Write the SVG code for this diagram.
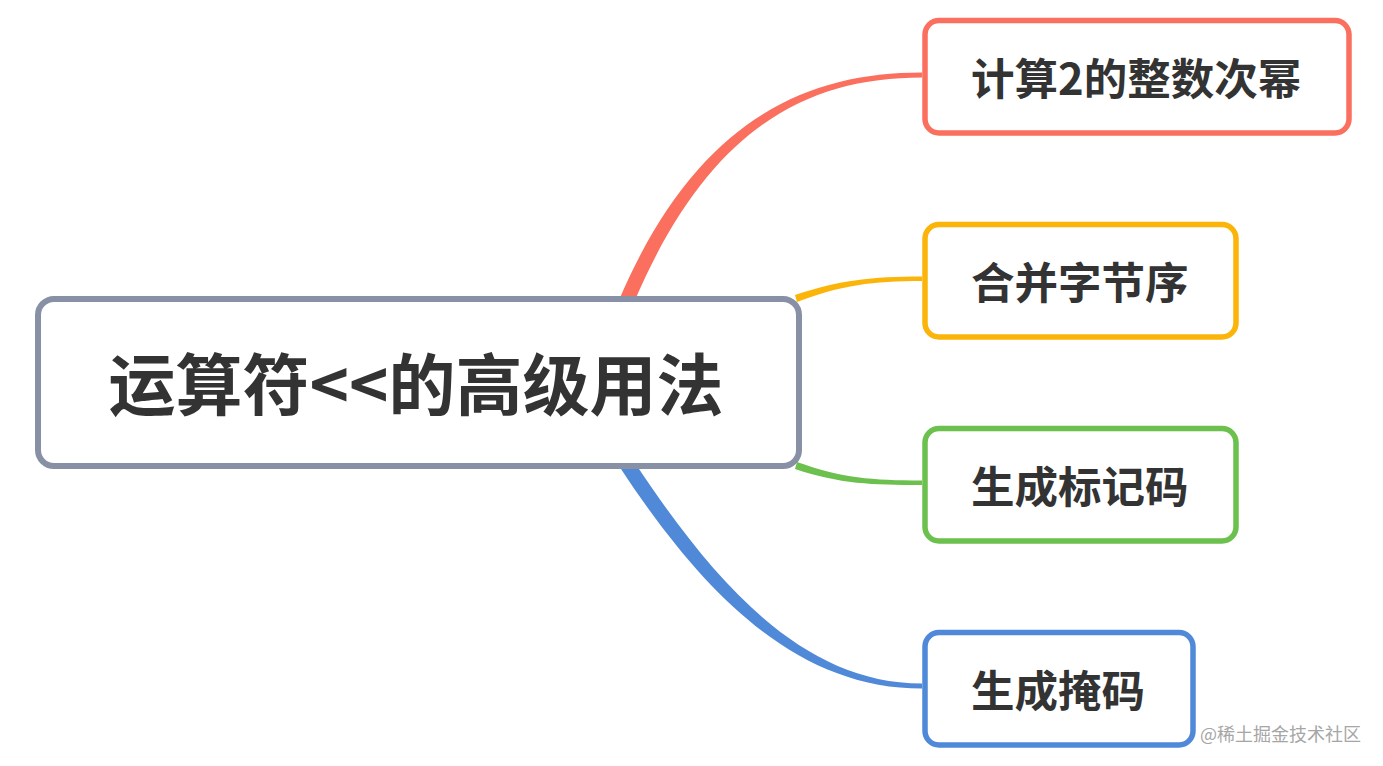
<svg xmlns="http://www.w3.org/2000/svg" width="1383" height="766" viewBox="0 0 1383 766">
<style>
.node{fill:#fff;stroke-width:5.5}
.lbl{font-family:"Noto Sans CJK SC","Noto Sans",sans-serif;font-weight:bold;font-size:43.5px;fill:#333;dominant-baseline:central}
.main{font-size:67px}
.wm{font-family:"Noto Sans CJK SC","Noto Sans",sans-serif;font-size:18px;fill:#a6a6a6}
</style>
<rect width="1383" height="766" fill="#fff"/>
<g id="connectors">
<path d="M 619 300 C 693 127, 798 72.5, 922 72.5 L 922 77.5 C 802 77.5, 707 133, 635 300 Z" fill="#fa6f5e"/>
<path d="M 795 295 C 840 280, 872 276.5, 922 276.5 L 922 281 C 872 281, 842 285, 797 302 Z" fill="#fbb50a"/>
<path d="M 797 462 C 842 478, 872 480.5, 922 480.5 L 922 485 C 872 485, 840 484, 795 469 Z" fill="#6cc04e"/>
<path d="M 637 466 C 717 586, 804 683.5, 922 683.5 L 922 688.5 C 796 688.5, 703 594, 619 466 Z" fill="#4f89d8"/>
</g>
<g id="root">
<rect x="38" y="299" width="761" height="167" rx="16" fill="#fff" stroke="#8790a4" stroke-width="6"/>
<text class="lbl main" x="416" y="380" text-anchor="middle">运算符&lt;&lt;的高级用法</text>
</g>
<g id="n1">
<rect class="node" x="925" y="20.5" width="424" height="112.5" rx="14" stroke="#fa6f5e"/>
<text class="lbl" x="971" y="76">计算2的整数次幂</text>
</g>
<g id="n2">
<rect class="node" x="925" y="224.5" width="311" height="112.5" rx="14" stroke="#fbb50a"/>
<text class="lbl" x="971" y="280">合并字节序</text>
</g>
<g id="n3">
<rect class="node" x="925" y="428.5" width="311" height="112.5" rx="14" stroke="#6cc04e"/>
<text class="lbl" x="971" y="484">生成标记码</text>
</g>
<g id="n4">
<rect class="node" x="925" y="632.5" width="268" height="112.5" rx="14" stroke="#4f89d8"/>
<text class="lbl" x="971" y="688">生成掩码</text>
</g>
<text class="wm" x="1200" y="741">@稀土掘金技术社区</text>
</svg>
